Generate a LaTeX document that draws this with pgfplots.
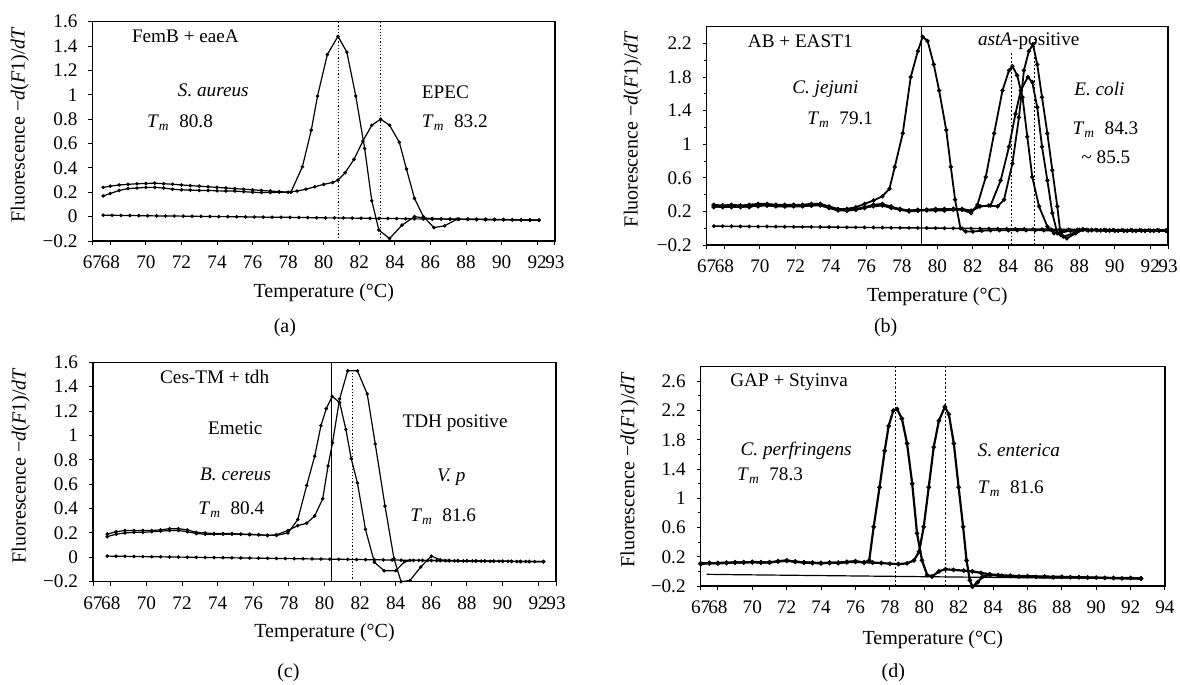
\documentclass[border=0pt]{standalone}
\usepackage{fontspec}
\setmainfont{Liberation Serif}
\usepackage{pgfplots}
\pgfplotsset{compat=1.18}

\newcommand\fs{\fontsize{9.6}{11}\selectfont}
\newcommand\fl{\fontsize{10}{12}\selectfont}
\newcommand\Tm{\textit{T}\textsubscript{\textit{m}}\enspace}
\newcommand\ylab{Fluorescence −\textit{d}(\textit{F}1)/\textit{dT}}

\tikzset{txt/.style={font=\fs, anchor=west, inner sep=0pt}}
\pgfplotsset{
  panel/.style={
    scale only axis, clip=false,
    axis line style={line width=0.6pt},
    tick align=outside,
    xtick pos=left, ytick pos=left,
    major tick length=2pt, minor tick length=1.5pt,
    every tick/.style={black, line width=0.5pt},
    ticklabel style={font=\fs},
    xticklabel style={yshift=-2pt},
    yticklabel style={xshift=-2pt},
    label style={font=\fl},
    xmin=67, ymin=-0.2,
    ylabel={\ylab},
    xlabel={Temperature (°C)},
    cycle list={{black,mark=*,mark options={solid,fill=black}}},
    every axis plot/.append style={black, line width=0.6pt, mark=*, mark size=0.55pt},
  },
  vline/.style={black, densely dotted, line width=0.4pt, mark=none},
  sline/.style={black, solid, line width=0.4pt, mark=none},
}

\begin{document}
\begin{tikzpicture}
\path[use as bounding box] (0,0) rectangle (590pt,-342.5pt);

% ---------------- (a) ----------------
\begin{axis}[panel,
  at={(46.25pt,-120.5pt)}, anchor=south west,
  width=231.25pt, height=109.65pt,
  xmax=93, ymax=1.6,
  xtick={67,68,70,72,74,76,78,80,82,84,86,88,90,92,93},
  xticklabels={67,68,70,72,74,76,78,80,82,84,86,88,90,92,93},
  ytick={-0.2,0,0.2,0.4,0.6,0.8,1,1.2,1.4,1.6},
  yticklabels={−0.2,0,0.2,0.4,0.6,0.8,1,1.2,1.4,1.6},
  ylabel style={at={(axis description cs:-0.157,0.53)}, anchor=center},
  xlabel style={at={(axis description cs:0.5,-0.237)}, anchor=center},
]
% S. aureus
\addplot coordinates {
(67.6,0.24) (68.0,0.25) (68.5,0.26) (69.0,0.265) (69.5,0.27) (70.0,0.272) (70.5,0.275) (71.0,0.27) (71.5,0.266) (72.0,0.26) (72.5,0.255) (73.0,0.25) (73.5,0.245) (74.0,0.24) (74.5,0.235) (75.0,0.23) (75.5,0.225) (76.0,0.22) (76.5,0.215) (77.0,0.21) (77.5,0.205) (78.15,0.2) (78.8,0.41) (79.3,0.71) (79.65,0.99) (80.2,1.33) (80.8,1.48) (81.3,1.35) (81.8,0.99) (82.3,0.56) (82.7,0.13) (83.1,-0.11) (83.7,-0.18) (84.4,-0.07) (85.1,0.0) (85.6,-0.01) (86.1,-0.015) (86.6,-0.018) (87.1,-0.02) (87.6,-0.02) (88.1,-0.021) (88.6,-0.022) (89.1,-0.022) (89.6,-0.023) (90.1,-0.024) (90.6,-0.025) (91.1,-0.026) (91.6,-0.027) (92.1,-0.028)
};
% EPEC
\addplot coordinates {
(67.6,0.17) (68.0,0.19) (68.5,0.215) (69.0,0.23) (69.5,0.235) (70.0,0.24) (70.5,0.24) (71.0,0.235) (71.5,0.225) (72.0,0.22) (72.5,0.218) (73.0,0.215) (73.5,0.215) (74.0,0.212) (74.5,0.21) (75.0,0.21) (75.5,0.205) (76.0,0.2) (76.5,0.198) (77.0,0.198) (77.5,0.2) (78.0,0.2) (78.5,0.21) (79.0,0.225) (79.5,0.245) (80.0,0.265) (80.5,0.28) (80.8,0.3) (81.2,0.36) (81.7,0.47) (82.2,0.62) (82.7,0.75) (83.2,0.80) (83.7,0.75) (84.25,0.61) (84.65,0.39) (85.1,0.15) (85.6,0.0) (86.2,-0.09) (86.8,-0.075) (87.5,-0.02) (88.1,-0.021) (88.6,-0.022) (89.1,-0.023) (89.6,-0.024) (90.1,-0.025) (90.6,-0.026) (91.1,-0.027) (91.6,-0.028) (92.1,-0.03)
};
% no template
\addplot coordinates {
(67.6,0.012) (68.1,0.011) (68.6,0.010) (69.1,0.009) (69.6,0.008) (70.1,0.007) (70.6,0.006) (71.1,0.005) (71.6,0.005) (72.1,0.004) (72.6,0.003) (73.1,0.002) (73.6,0.001) (74.1,0.0) (74.6,0.0) (75.1,-0.001) (75.6,-0.002) (76.1,-0.003) (76.6,-0.004) (77.1,-0.005) (77.6,-0.005) (78.1,-0.006) (78.6,-0.007) (79.1,-0.008) (79.6,-0.009) (80.1,-0.01) (80.6,-0.01) (81.1,-0.011) (81.6,-0.012) (82.1,-0.013) (82.6,-0.014) (83.1,-0.015) (83.6,-0.015) (84.1,-0.016) (84.6,-0.017) (85.1,-0.018) (85.6,-0.019) (86.1,-0.02) (86.6,-0.02) (87.1,-0.021) (87.6,-0.022) (88.1,-0.023) (88.6,-0.024) (89.1,-0.025) (89.6,-0.025) (90.1,-0.026) (90.6,-0.027) (91.1,-0.028) (91.6,-0.029) (92.1,-0.03)
};
\addplot[vline] coordinates {(80.8,-0.2) (80.8,1.6)};
\addplot[vline] coordinates {(83.2,-0.2) (83.2,1.6)};
\node[txt] at (axis cs:69.2,1.48) {FemB + eaeA};
\node[txt] at (axis cs:71.78,1.04) {\textit{S. aureus}};
\node[txt] at (axis cs:70.05,0.77) {\Tm 80.8};
\node[txt] at (axis cs:85.5,1.02) {EPEC};
\node[txt] at (axis cs:85.5,0.77) {\Tm 83.2};
\node[font=\fl] at (axis description cs:0.416,-0.397) {(a)};
\end{axis}

% ---------------- (b) ----------------
\begin{axis}[panel,
  at={(353.35pt,-122.5pt)}, anchor=south west,
  width=230.65pt, height=109.15pt,
  xmax=93, ymax=2.4,
  xtick={67,68,70,72,74,76,78,80,82,84,86,88,90,92,93},
  xticklabels={67,68,70,72,74,76,78,80,82,84,86,88,90,92,93},
  ytick={-0.2,0.2,0.6,1,1.4,1.8,2.2},
  yticklabels={−0.2,0.2,0.6,1,1.4,1.8,2.2},
  minor y tick num=1,
  every axis plot/.append style={line width=0.9pt},
  ylabel style={at={(axis description cs:-0.16,0.53)}, anchor=center},
  xlabel style={at={(axis description cs:0.5,-0.238)}, anchor=center},
]
% C. jejuni
\addplot coordinates {
(67.4,0.28) (67.9,0.27) (68.4,0.28) (68.9,0.27) (69.4,0.28) (69.9,0.29) (70.4,0.29) (70.9,0.28) (71.4,0.28) (71.9,0.28) (72.4,0.28) (72.9,0.29) (73.4,0.29) (73.9,0.26) (74.4,0.23) (74.9,0.23) (75.4,0.25) (75.9,0.29) (76.4,0.33) (76.9,0.38) (77.3,0.47) (77.6,0.73) (78.05,1.13) (78.5,1.8) (78.9,2.11) (79.17,2.28) (79.45,2.23) (79.8,1.95) (80.1,1.64) (80.5,1.17) (80.76,0.73) (81.0,0.34) (81.3,0.0) (81.6,-0.04) (82.0,-0.04) (82.5,-0.03) (83.0,-0.025) (83.5,-0.025) (84.0,-0.025) (84.5,-0.025) (85.0,-0.025) (85.5,-0.025) (86.0,-0.025) (86.5,-0.03) (87.0,-0.03) (87.5,-0.03) (88.0,-0.025) (88.5,-0.025) (89.0,-0.025) (89.5,-0.03) (90.0,-0.03) (90.5,-0.03) (91.0,-0.03) (91.5,-0.03) (92.0,-0.03) (92.5,-0.03) (92.9,-0.03)
};
% E. coli 1
\addplot coordinates {
(67.4,0.26) (67.9,0.25) (68.4,0.26) (68.9,0.25) (69.4,0.26) (69.9,0.27) (70.4,0.27) (70.9,0.26) (71.4,0.26) (71.9,0.26) (72.4,0.26) (72.9,0.27) (73.4,0.27) (73.9,0.24) (74.4,0.21) (74.9,0.21) (75.4,0.22) (75.9,0.24) (76.4,0.27) (76.9,0.28) (77.4,0.26) (77.9,0.22) (78.4,0.2) (78.9,0.21) (79.4,0.21) (79.9,0.21) (80.4,0.21) (80.9,0.22) (81.4,0.22) (81.9,0.18) (82.26,0.28) (82.73,0.61) (83.2,1.13) (83.67,1.64) (84.04,1.88) (84.23,1.93) (84.5,1.82) (84.8,1.56) (85.07,1.09) (85.35,0.61) (85.73,0.26) (86.2,0.02) (86.57,-0.06) (87.0,-0.05) (87.5,-0.03) (88.0,-0.02) (88.5,-0.025) (89.0,-0.025) (89.5,-0.025) (90.0,-0.03) (90.5,-0.03) (91.0,-0.03) (91.5,-0.03) (92.0,-0.03) (92.5,-0.03) (92.9,-0.03)
};
% E. coli 2
\addplot coordinates {
(67.4,0.27) (67.9,0.26) (68.4,0.25) (68.9,0.26) (69.4,0.27) (69.9,0.26) (70.4,0.28) (70.9,0.27) (71.4,0.27) (71.9,0.27) (72.4,0.27) (72.9,0.28) (73.4,0.28) (73.9,0.25) (74.4,0.22) (74.9,0.22) (75.4,0.23) (75.9,0.25) (76.4,0.28) (76.9,0.29) (77.4,0.25) (77.9,0.23) (78.4,0.21) (78.9,0.22) (79.4,0.22) (79.9,0.23) (80.4,0.22) (80.9,0.23) (81.4,0.23) (81.9,0.21) (82.4,0.26) (83.0,0.27) (83.57,0.57) (84.04,0.97) (84.4,1.36) (84.7,1.64) (85.1,1.8) (85.35,1.74) (85.63,1.44) (85.9,0.97) (86.2,0.57) (86.48,0.18) (86.76,-0.06) (87.1,-0.1) (87.7,-0.06) (88.2,-0.01) (88.7,-0.02) (89.2,-0.025) (89.7,-0.025) (90.2,-0.03) (90.7,-0.03) (91.2,-0.03) (91.7,-0.03) (92.2,-0.03) (92.9,-0.03)
};
% E. coli 3
\addplot coordinates {
(67.4,0.25) (67.9,0.27) (68.4,0.26) (68.9,0.27) (69.4,0.25) (69.9,0.28) (70.4,0.27) (70.9,0.27) (71.4,0.26) (71.9,0.27) (72.4,0.27) (72.9,0.27) (73.4,0.28) (73.9,0.25) (74.4,0.22) (74.9,0.21) (75.4,0.22) (75.9,0.25) (76.4,0.26) (76.9,0.27) (77.4,0.24) (77.9,0.22) (78.4,0.21) (78.9,0.21) (79.4,0.22) (79.9,0.22) (80.4,0.23) (80.9,0.23) (81.4,0.22) (81.9,0.2) (82.4,0.26) (82.9,0.27) (83.4,0.26) (83.76,0.34) (84.23,0.77) (84.6,1.32) (84.88,1.88) (85.16,2.11) (85.39,2.19) (85.63,1.95) (85.9,1.56) (86.2,1.13) (86.48,0.69) (86.76,0.26) (86.95,-0.08) (87.3,-0.12) (87.8,-0.06) (88.2,-0.02) (88.7,-0.025) (89.2,-0.025) (89.7,-0.03) (90.2,-0.03) (90.7,-0.03) (91.2,-0.03) (91.7,-0.03) (92.2,-0.03) (92.9,-0.03)
};
% no template
\addplot[black, line width=0.7pt] coordinates {
(67.4,0.025) (67.9,0.024) (68.4,0.023) (68.9,0.022) (69.4,0.021) (69.9,0.02) (70.4,0.02) (70.9,0.019) (71.4,0.018) (71.9,0.017) (72.4,0.016) (72.9,0.015) (73.4,0.014) (73.9,0.013) (74.4,0.012) (74.9,0.011) (75.4,0.01) (75.9,0.009) (76.4,0.008) (76.9,0.007) (77.4,0.006) (77.9,0.005) (78.4,0.004) (78.9,0.003) (79.4,0.002) (79.9,0.001) (80.4,0.0) (80.9,-0.001) (81.4,-0.002) (81.9,-0.003) (82.4,-0.004) (82.9,-0.005) (83.4,-0.006) (83.9,-0.007) (84.4,-0.008) (84.9,-0.009) (85.4,-0.01) (85.9,-0.011) (86.4,-0.012) (86.9,-0.013) (87.4,-0.014) (87.9,-0.015) (88.4,-0.016) (88.9,-0.017) (89.4,-0.017) (89.9,-0.018) (90.4,-0.018) (90.9,-0.019) (91.4,-0.019) (91.9,-0.02) (92.4,-0.02) (92.9,-0.02)
};
\addplot[sline] coordinates {(79.1,-0.2) (79.1,2.4)};
\addplot[vline] coordinates {(84.2,-0.2) (84.2,2.1)};
\addplot[vline] coordinates {(85.45,-0.2) (85.45,2.25)};
\node[txt] at (axis cs:69.3,2.23) {AB + EAST1};
\node[txt] at (axis cs:82.27,2.23) {\textit{astA}-positive};
\node[txt] at (axis cs:71.8,1.66) {\textit{C. jejuni}};
\node[txt] at (axis cs:72.65,1.29) {\Tm 79.1};
\node[txt] at (axis cs:87.7,1.66) {\textit{E. coli}};
\node[txt] at (axis cs:87.6,1.17) {\Tm 84.3};
\node[txt] at (axis cs:88.1,0.85) {\textasciitilde\ 85.5};
\node[font=\fl] at (axis description cs:0.388,-0.38) {(b)};
\end{axis}

% ---------------- (c) ----------------
\begin{axis}[panel,
  at={(46.5pt,-290.85pt)}, anchor=south west,
  width=231.5pt, height=109.7pt,
  xmax=93, ymax=1.6,
  xtick={67,68,70,72,74,76,78,80,82,84,86,88,90,92,93},
  xticklabels={67,68,70,72,74,76,78,80,82,84,86,88,90,92,93},
  ytick={-0.2,0,0.2,0.4,0.6,0.8,1,1.2,1.4,1.6},
  yticklabels={−0.2,0,0.2,0.4,0.6,0.8,1,1.2,1.4,1.6},
  ylabel style={at={(axis description cs:-0.156,0.53)}, anchor=center},
  xlabel style={at={(axis description cs:0.5,-0.234)}, anchor=center},
]
% B. cereus
\addplot coordinates {
(67.8,0.17) (68.3,0.19) (68.8,0.2) (69.3,0.205) (69.8,0.205) (70.3,0.21) (70.8,0.215) (71.3,0.22) (71.8,0.22) (72.3,0.21) (72.8,0.195) (73.3,0.19) (73.8,0.19) (74.3,0.19) (74.8,0.19) (75.3,0.19) (75.8,0.185) (76.3,0.185) (76.8,0.18) (77.3,0.18) (77.95,0.2) (78.5,0.31) (79.0,0.59) (79.45,0.83) (79.8,1.08) (80.1,1.22) (80.43,1.32) (80.85,1.27) (81.2,1.05) (81.5,0.81) (81.85,0.61) (82.3,0.23) (82.8,-0.04) (83.35,-0.11) (84.0,-0.11) (84.5,-0.035) (85.0,-0.025) (85.5,-0.025) (86.0,-0.026) (86.5,-0.027) (87.0,-0.028) (87.5,-0.029) (88.0,-0.03) (88.5,-0.03) (89.0,-0.031) (89.5,-0.032) (90.0,-0.032) (90.5,-0.033) (91.0,-0.034) (91.5,-0.034) (92.3,-0.035)
};
% V. parahaemolyticus
\addplot coordinates {
(67.8,0.19) (68.3,0.21) (68.8,0.22) (69.3,0.22) (69.8,0.22) (70.3,0.22) (70.8,0.225) (71.3,0.235) (71.8,0.235) (72.3,0.225) (72.8,0.205) (73.3,0.2) (73.8,0.195) (74.3,0.195) (74.8,0.195) (75.3,0.19) (75.8,0.19) (76.3,0.185) (76.8,0.18) (77.3,0.185) (77.95,0.22) (78.5,0.26) (79.0,0.28) (79.45,0.34) (79.9,0.48) (80.2,0.75) (80.45,0.94) (80.85,1.3) (81.3,1.53) (81.85,1.53) (82.4,1.34) (82.85,0.93) (83.4,0.42) (83.9,-0.01) (84.3,-0.2) (84.8,-0.19) (85.4,-0.08) (86.0,0.01) (86.5,-0.02) (87.0,-0.025) (87.5,-0.027) (88.0,-0.028) (88.5,-0.03) (89.0,-0.03) (89.5,-0.031) (90.0,-0.032) (90.5,-0.033) (91.0,-0.034) (91.5,-0.035) (92.3,-0.036)
};
% no template
\addplot coordinates {
(67.8,0.01) (68.3,0.009) (68.8,0.008) (69.3,0.007) (69.8,0.006) (70.3,0.005) (70.8,0.004) (71.3,0.003) (71.8,0.002) (72.3,0.001) (72.8,0.0) (73.3,-0.001) (73.8,-0.002) (74.3,-0.003) (74.8,-0.004) (75.3,-0.005) (75.8,-0.006) (76.3,-0.007) (76.8,-0.008) (77.3,-0.009) (77.8,-0.01) (78.3,-0.011) (78.8,-0.012) (79.3,-0.013) (79.8,-0.014) (80.3,-0.015) (80.8,-0.016) (81.3,-0.017) (81.8,-0.018) (82.3,-0.019) (82.8,-0.02) (83.3,-0.021) (83.8,-0.022) (84.3,-0.023) (84.8,-0.024) (85.3,-0.025) (85.8,-0.026) (86.3,-0.027) (86.8,-0.028) (87.3,-0.029) (87.8,-0.03) (88.3,-0.03) (88.8,-0.031) (89.3,-0.032) (89.8,-0.032) (90.3,-0.033) (90.8,-0.034) (91.3,-0.034) (91.8,-0.035) (92.3,-0.035)
};
\addplot[sline] coordinates {(80.4,-0.2) (80.4,1.6)};
\addplot[vline] coordinates {(81.55,-0.2) (81.55,1.53)};
\node[txt] at (axis cs:70.75,1.48) {Ces-TM + tdh};
\node[txt] at (axis cs:73.44,1.06) {Emetic};
\node[txt] at (axis cs:73.0,0.68) {\textit{B. cereus}};
\node[txt] at (axis cs:72.9,0.39) {\Tm 80.4};
\node[txt] at (axis cs:84.36,1.10) {TDH positive};
\node[txt] at (axis cs:86.3,0.66) {\textit{V. p}};
\node[txt] at (axis cs:84.8,0.33) {\Tm 81.6};
\node[font=\fl] at (axis description cs:0.422,-0.416) {(c)};
\end{axis}

% ---------------- (d) ----------------
\begin{axis}[panel,
  at={(350.35pt,-293pt)}, anchor=south west,
  width=232.15pt, height=109.65pt,
  xmax=94, ymax=2.8,
  xtick={67,68,70,72,74,76,78,80,82,84,86,88,90,92,94},
  xticklabels={67,68,70,72,74,76,78,80,82,84,86,88,90,92,94},
  ytick={-0.2,0.2,0.6,1,1.4,1.8,2.2,2.6},
  yticklabels={−0.2,0.2,0.6,1,1.4,1.8,2.2,2.6},
  minor y tick num=1,
  every axis plot/.append style={line width=1.1pt, mark size=0.5pt},
  ylabel style={at={(axis description cs:-0.153,0.53)}, anchor=center},
  xlabel style={at={(axis description cs:0.5,-0.246)}, anchor=center},
]
% C. perfringens
\addplot coordinates {
(67.0,0.11) (67.5,0.11) (68.0,0.115) (68.5,0.12) (69.0,0.12) (69.5,0.125) (70.0,0.125) (70.5,0.12) (71.0,0.125) (71.5,0.135) (72.0,0.145) (72.5,0.135) (73.0,0.12) (73.5,0.115) (74.0,0.115) (74.5,0.115) (75.0,0.12) (75.5,0.13) (76.0,0.14) (76.5,0.12) (76.8,0.15) (77.06,0.61) (77.4,1.15) (77.7,1.65) (77.93,1.99) (78.2,2.2) (78.42,2.22) (78.7,2.09) (79.0,1.75) (79.3,1.2) (79.58,0.52) (79.87,0.15) (80.17,-0.05) (80.45,-0.07) (80.85,0.0) (81.23,0.03) (81.7,0.02) (82.3,0.01) (82.8,0.0) (83.3,-0.02) (83.8,-0.04) (84.3,-0.05) (85.0,-0.06) (86.0,-0.065) (87.0,-0.07) (88.0,-0.075) (89.0,-0.08) (90.0,-0.085) (91.0,-0.09) (92.0,-0.09) (92.6,-0.095)
};
% S. enterica
\addplot coordinates {
(67.0,0.1) (67.5,0.115) (68.0,0.11) (68.5,0.115) (69.0,0.125) (69.5,0.12) (70.0,0.13) (70.5,0.125) (71.0,0.12) (71.5,0.14) (72.0,0.15) (72.5,0.13) (73.0,0.125) (73.5,0.12) (74.0,0.11) (74.5,0.12) (75.0,0.115) (75.5,0.125) (76.0,0.13) (76.5,0.125) (77.0,0.12) (77.5,0.115) (78.0,0.105) (78.5,0.1) (79.0,0.11) (79.4,0.15) (79.7,0.27) (79.97,0.61) (80.26,1.15) (80.55,1.7) (80.85,2.06) (81.2,2.25) (81.43,2.15) (81.72,1.75) (82.0,1.15) (82.26,0.61) (82.46,0.15) (82.65,-0.12) (82.8,-0.21) (83.1,-0.15) (83.4,-0.07) (83.85,-0.05) (84.5,-0.06) (85.5,-0.07) (86.5,-0.075) (87.5,-0.08) (88.5,-0.08) (89.5,-0.085) (90.5,-0.09) (91.5,-0.095) (92.6,-0.1)
};
% no template
\addplot[black, line width=0.6pt, mark=none] coordinates {
(67.35,-0.04) (69,-0.045) (71,-0.05) (73,-0.055) (75,-0.06) (77,-0.065) (79,-0.07) (81,-0.075) (83,-0.08) (85,-0.085) (87,-0.09) (89,-0.09) (91,-0.095) (92.6,-0.1)
};
\addplot[vline] coordinates {(78.3,-0.2) (78.3,2.8)};
\addplot[vline] coordinates {(81.25,-0.2) (81.25,2.8)};
\node[txt] at (axis cs:68.7,2.59) {GAP + Styinva};
\node[txt] at (axis cs:69.3,1.65) {\textit{C. perfringens}};
\node[txt] at (axis cs:69.1,1.31) {\Tm 78.3};
\node[txt] at (axis cs:83.1,1.65) {\textit{S. enterica}};
\node[txt] at (axis cs:83.1,1.13) {\Tm 81.6};
\node[font=\fl] at (axis description cs:0.415,-0.397) {(d)};
\end{axis}
\end{tikzpicture}
\end{document}
